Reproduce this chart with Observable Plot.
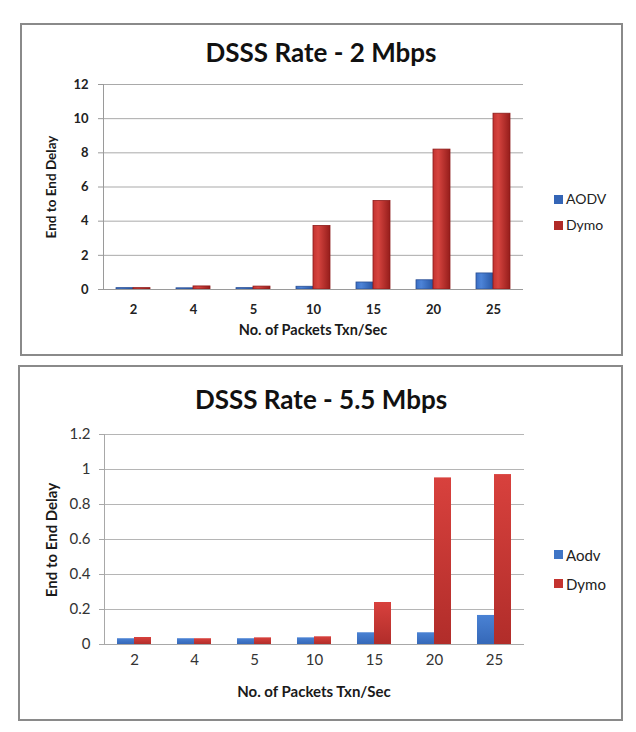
<!DOCTYPE html>
<html>
<head>
<meta charset="utf-8">
<script src="https://cdn.jsdelivr.net/npm/d3@7"></script>
<script src="https://cdn.jsdelivr.net/npm/@observablehq/plot@0.6"></script>
<style>
  body { margin: 0; background: #fff; font-family: Lato, "Open Sans", sans-serif; }
  #page { position: relative; width: 636px; height: 732px; overflow: hidden; background: #fff; }
  .box { position: absolute; box-sizing: border-box; border: 2px solid #8a8a8a; }
  .abs { position: absolute; white-space: nowrap; line-height: 1; }
  .title { font-weight: 700; font-size: 26px; color: #111; transform: translate(-50%, -50%); }
  .xt { font-weight: 700; color: #1a1a1a; transform: translate(-50%, -50%); }
  .yt { font-weight: 700; color: #1a1a1a; transform: translate(-50%, -50%) rotate(-90deg); }
  .sw { position: absolute; width: 9px; height: 9px; }
  .lt { color: #222; transform: translateY(-50%); }
  svg { position: absolute; left: 0; }
</style>
</head>
<body>
<div id="page"></div>
<script>
// ---- data ----
const categories = ["2", "4", "5", "10", "15", "20", "25"];

const seriesTop = ["AODV", "Dymo"];
const aodvTop = [0.08, 0.07, 0.08, 0.16, 0.41, 0.54, 0.94];
const dymoTop = [0.08, 0.18, 0.17, 3.72, 5.18, 8.19, 10.29];
const yTicksTop = [0, 2, 4, 6, 8, 10, 12];
const yTickLabelsTop = ["0", "2", "4", "6", "8", "10", "12"];

const seriesBottom = ["Aodv", "Dymo"];
const aodvBottom = [0.033, 0.033, 0.033, 0.038, 0.067, 0.067, 0.166];
const dymoBottom = [0.040, 0.033, 0.038, 0.044, 0.240, 0.952, 0.971];
const yTicksBottom = [0, 0.2, 0.4, 0.6, 0.8, 1, 1.2];
const yTickLabelsBottom = ["0", "0.2", "0.4", "0.6", "0.8", "1", "1.2"];

const titleTop = "DSSS Rate - 2 Mbps";
const titleBottom = "DSSS Rate - 5.5 Mbps";
const xTitle = "No. of Packets Txn/Sec";
const yTitle = "End to End Delay";

// ---- helpers ----
const page = document.getElementById("page");
function el(tag, cls, style, text) {
  const e = document.createElement(tag);
  if (cls) e.className = cls;
  Object.assign(e.style, style || {});
  if (text != null) e.textContent = text;
  page.appendChild(e);
  return e;
}

function chart(cfg) {
  const data = [];
  categories.forEach((c, i) => {
    cfg.series.forEach((s, j) => data.push({cat: c, series: s, value: cfg.values[j][i]}));
  });
  const svg = Plot.plot({
    width: 636,
    height: cfg.height,
    marginLeft: cfg.mL, marginRight: cfg.mR, marginTop: cfg.mT, marginBottom: cfg.mB,
    style: {fontFamily: "Lato, 'Open Sans', sans-serif", background: "transparent", overflow: "visible"},
    fx: {domain: categories, padding: 0, label: null},
    x: {domain: cfg.series, paddingInner: 0, paddingOuter: cfg.pad, axis: null},
    y: {domain: [0, cfg.yMax], label: null},
    marks: [
      Plot.gridY(cfg.ticks, {stroke: cfg.grid, strokeOpacity: 1}),
      Plot.barY(data.filter(d => d.series === cfg.series[0]),
        {fx: "cat", x: "series", y: "value", fill: `url(#${cfg.id}-a)`, stroke: cfg.strokeA, strokeWidth: cfg.sw}),
      Plot.barY(data.filter(d => d.series === cfg.series[1]),
        {fx: "cat", x: "series", y: "value", fill: `url(#${cfg.id}-d)`, stroke: cfg.strokeD, strokeWidth: cfg.sw}),
      Plot.ruleY([0], {stroke: cfg.axis}),
      Plot.frame({anchor: "left", facetAnchor: "left", stroke: cfg.axis}),
      Plot.axisY(cfg.ticks, {
        tickSize: 5, tickPadding: cfg.tpY, stroke: cfg.axis, fill: cfg.text,
        fontSize: cfg.fs, fontWeight: cfg.fw, label: null,
        tickFormat: d => cfg.labels[cfg.ticks.indexOf(d)]
      }),
      Plot.axisFx({
        anchor: "bottom", tickSize: 0, tickPadding: cfg.tpX, fill: cfg.text,
        fontSize: cfg.fs, fontWeight: cfg.fw, label: null
      })
    ]
  });
  const ns = "http://www.w3.org/2000/svg";
  const defs = document.createElementNS(ns, "defs");
  defs.innerHTML = cfg.defs;
  svg.insertBefore(defs, svg.firstChild);
  svg.style.top = cfg.top + "px";
  page.appendChild(svg);
  return svg;
}

// ---- boxes ----
el("div", "box", {left: "20px", top: "23px", width: "603px", height: "333px"});
el("div", "box", {left: "18px", top: "365px", width: "605px", height: "356px"});

// ---- top chart ----
chart({
  id: "gt", top: 70, height: 280, mL: 100, mR: 110, mT: 14, mB: 61,
  series: seriesTop, values: [aodvTop, dymoTop], ticks: yTicksTop, labels: yTickLabelsTop, yMax: 12,
  pad: 0.739, grid: "#a9a9a9", axis: "#9a9a9a", text: "#222", fs: 13, fw: 700, tpY: 10, tpX: 15,
  strokeA: "#2a4f94", strokeD: "#8c1b19", sw: 0.8,
  defs: `
    <linearGradient id="gt-a" x1="0" y1="0" x2="1" y2="0">
      <stop offset="0" stop-color="#3b6dc2"/><stop offset="0.3" stop-color="#4d84d8"/><stop offset="1" stop-color="#2857a5"/>
    </linearGradient>
    <linearGradient id="gt-d" x1="0" y1="0" x2="1" y2="0">
      <stop offset="0" stop-color="#c23330"/><stop offset="0.3" stop-color="#d6443f"/><stop offset="1" stop-color="#951d1b"/>
    </linearGradient>`
});

// ---- bottom chart ----
chart({
  id: "gb", top: 420, height: 284, mL: 102, mR: 109.5, mT: 14, mB: 60,
  series: seriesBottom, values: [aodvBottom, dymoBottom], ticks: yTicksBottom, labels: yTickLabelsBottom, yMax: 1.2,
  pad: 0.75, grid: "#b5b5b5", axis: "#a8a8a8", text: "#333", fs: 15, fw: 400, tpY: 9, tpX: 10,
  strokeA: "none", strokeD: "none", sw: 0,
  defs: `
    <linearGradient id="gb-a" x1="0" y1="0" x2="0" y2="1">
      <stop offset="0" stop-color="#4a82d4"/><stop offset="1" stop-color="#3568b8"/>
    </linearGradient>
    <linearGradient id="gb-d" x1="0" y1="0" x2="0" y2="1">
      <stop offset="0" stop-color="#d8413d"/><stop offset="1" stop-color="#b12d2a"/>
    </linearGradient>`
});

// ---- titles, axis titles, legends ----
el("div", "abs title", {left: "321px", top: "52px"}, titleTop);
el("div", "abs title", {left: "321px", top: "398.5px"}, titleBottom);

el("div", "abs xt", {left: "313px", top: "330px", fontSize: "14.5px"}, xTitle);
el("div", "abs yt", {left: "52px", top: "187px", fontSize: "13.5px"}, yTitle);
el("div", "abs xt", {left: "314px", top: "691px", fontSize: "15px"}, xTitle);
el("div", "abs yt", {left: "51px", top: "540px", fontSize: "15px"}, yTitle);

// legends
el("div", "sw", {left: "554px", top: "195px", background: "#3465b6"});
el("div", "abs lt", {left: "566px", top: "199px", fontSize: "14px"}, seriesTop[0]);
el("div", "sw", {left: "554px", top: "220.5px", background: "#b02a27"});
el("div", "abs lt", {left: "566px", top: "225px", fontSize: "14px"}, seriesTop[1]);

el("div", "sw", {left: "554px", top: "550px", background: "#3f75c6"});
el("div", "abs lt", {left: "566px", top: "554.5px", fontSize: "15px"}, seriesBottom[0]);
el("div", "sw", {left: "554px", top: "579px", background: "#c4332f"});
el("div", "abs lt", {left: "566px", top: "583.5px", fontSize: "15px"}, seriesBottom[1]);
</script>
</body>
</html>
